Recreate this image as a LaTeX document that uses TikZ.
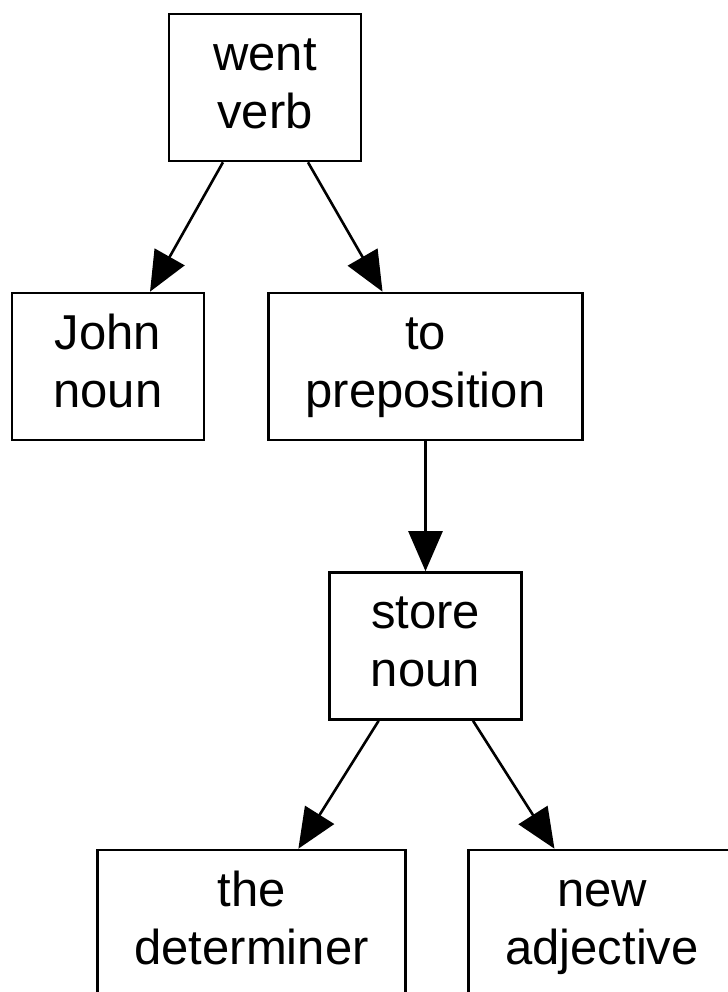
\documentclass[tikz,border=0pt]{standalone}
\usepackage{fontspec}
\setmainfont{Liberation Sans}
\usetikzlibrary{arrows.meta}

% word over its part of speech
\newcommand{\wordpos}[2]{\strut #1\\\strut #2}

\begin{document}
\begin{tikzpicture}[
  x=0.5pt, y=-0.5pt,
  block/.style={rectangle, draw, line width=1.3pt, minimum width=96pt, minimum height=73.5pt, inner xsep=18.5pt, inner ysep=0pt, align=center, font=\fontsize{24.5pt}{29pt}\selectfont},
  link/.style={-{Triangle[length=20pt, width=17pt]}, line width=1.3pt}
]
\clip (0,0) rectangle (728,992);
\useasboundingbox (0,0) rectangle (728,992);

\node[block] (went) at (265,87.5) {\wordpos{went}{verb}};
\node[block] (john) at (108,366.5) {\wordpos{John}{noun}};
\node[block] (to) at (425.5,366.5) {\wordpos{to}{preposition}};
\node[block, below of=to, node distance=139.75pt] (store) {\wordpos{store}{noun}};
\node[block] (the) at (251.5,923.5) {\wordpos{the}{determiner}};
\node[block] (new) at (602,923.5) {\wordpos{new}{adjective}};

\draw[link] (went) -- (john);
\draw[link] (went) -- (to);
\draw[link] (to) -- (store);
\draw[link] (store) -- (the);
\draw[link] (store) -- (new);
\end{tikzpicture}
\end{document}
